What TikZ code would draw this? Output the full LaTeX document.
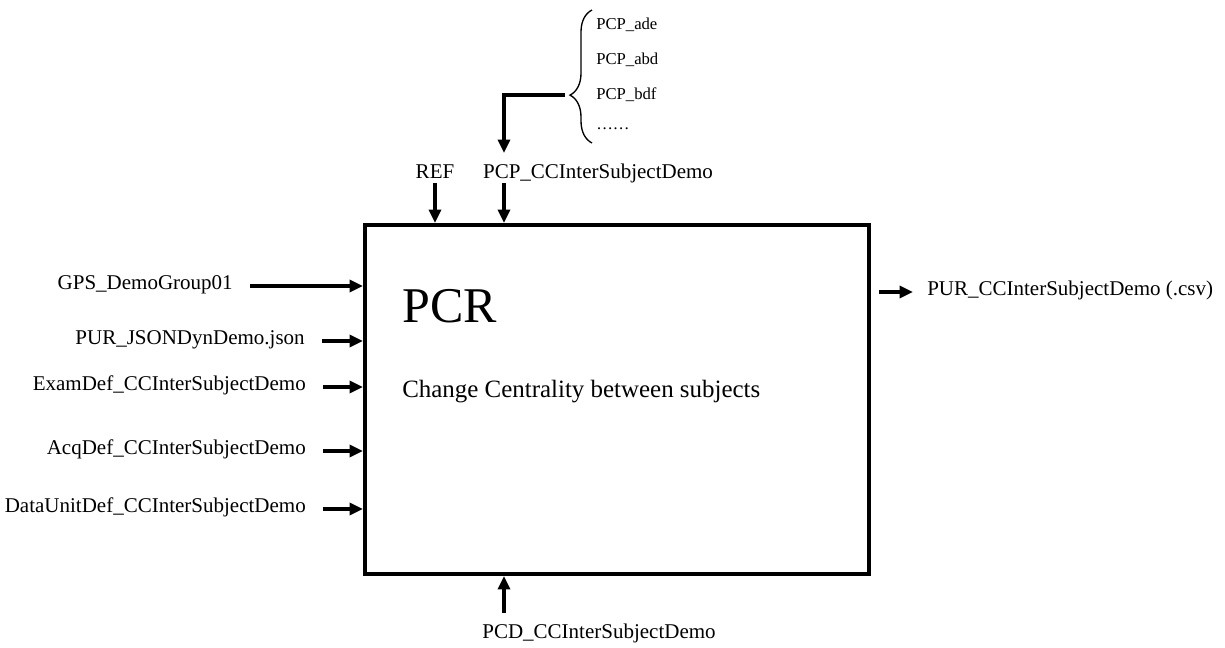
\documentclass[tikz,border=0pt]{standalone}
\usepackage{fontspec}
\setmainfont{Liberation Serif}
\usetikzlibrary{positioning,arrows.meta,decorations.pathreplacing}
\tikzset{
  portarrow/.style={-{Triangle[length=10pt, width=9pt]}, line width=2.4pt},
  procbox/.style={draw, line width=3pt, minimum width=378pt, minimum height=261.75pt, inner sep=0pt},
  portlabel/.style={font=\fontsize{15.75pt}{19pt}\selectfont, inner sep=0pt, text height=0.66em, text depth=0.2em},
  itemlabel/.style={font=\fontsize{12.5pt}{15pt}\selectfont, inner sep=0pt, text height=0.66em, text depth=0.2em},
  bracemark/.style={decorate, decoration={brace, amplitude=16.5pt, aspect=0.36}, line width=1pt}
}

\begin{document}
\begin{tikzpicture}[x=0.75pt, y=-0.75pt]
  \useasboundingbox (0,0) rectangle (1225,648);
  % process box
  \node[procbox] (pcr) at (617,399.5) {};
  \node[anchor=base west, inner sep=0pt, font=\fontsize{37.5pt}{40pt}\selectfont] (pcrname) at (402,323) {PCR};
  \node[anchor=base west, inner sep=0pt, font=\fontsize{18.7pt}{22pt}\selectfont] (pcrdesc) at (402,398) {Change Centrality between subjects};

  % inputs on the left
  \node[portlabel, anchor=east] (gps) at (233,286) {GPS\_DemoGroup01};
  \node[portlabel, anchor=east] (json) at (305,341) {PUR\_JSONDynDemo.json};
  \node[portlabel, anchor=east] (exam) at (306,387) {ExamDef\_CCInterSubjectDemo};
  \node[portlabel, anchor=east] (acq) at (306,451) {AcqDef\_CCInterSubjectDemo};
  \node[portlabel, anchor=east] (unit) at (306,509) {DataUnitDef\_CCInterSubjectDemo};
  \draw[portarrow, shorten <=12.75pt] (gps.east) -- (gps.east -| pcr.west);
  \draw[portarrow, shorten <=12.75pt] (json.east) -- (json.east -| pcr.west);
  \draw[portarrow, shorten <=12.75pt] (exam.east) -- (exam.east -| pcr.west);
  \draw[portarrow, shorten <=12.75pt] (acq.east) -- (acq.east -| pcr.west);
  \draw[portarrow, shorten <=12.75pt] (unit.east) -- (unit.east -| pcr.west);

  % controls on top
  \node[portlabel] (ref) at (435,175) {REF};
  \node[portlabel] (pcp) at (598,175) {PCP\_CCInterSubjectDemo};
  \coordinate (pcpin) at (504,153);
  \draw[portarrow, shorten <=1.5pt] (ref.south) -- (ref.south |- pcr.north);
  \draw[portarrow, shorten <=1.5pt] (pcp.south -| pcpin) -- (pcpin |- pcr.north);

  % list of PCP variants
  \node[itemlabel, anchor=west] (ade) at (596,26) {PCP\_ade};
  \node[itemlabel, anchor=west] (abd) at (596,61) {PCP\_abd};
  \node[itemlabel, anchor=west] (bdf) at (596,96) {PCP\_bdf};
  \node[itemlabel, anchor=west] (more) at (596,126) {……};
  \draw[bracemark] (592,143) -- (592,10);
  \coordinate (bracetip) at (565,95);
  \draw[portarrow] (bracetip) -| (pcpin);

  % output
  \node[portlabel, anchor=west] (pur) at (927,292) {PUR\_CCInterSubjectDemo (.csv)};
  \draw[portarrow, shorten <=6pt, shorten >=10.5pt] (pcr.east |- pur.west) -- (pur.west);

  % mechanism below
  \node[portlabel] (pcd) at (599,635) {PCD\_CCInterSubjectDemo};
  \draw[portarrow, shorten <=12pt] (pcd.north -| pcpin) -- (pcpin |- pcr.south);
\end{tikzpicture}
\end{document}
